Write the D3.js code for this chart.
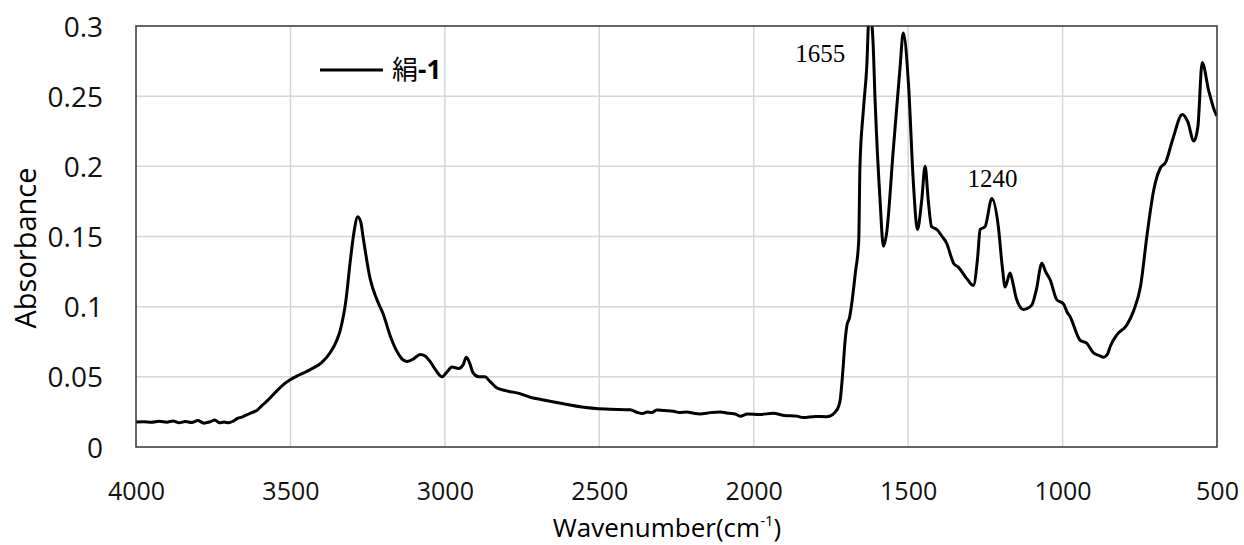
<!DOCTYPE html>
<html>
<head>
<meta charset="utf-8">
<script src="https://cdn.jsdelivr.net/npm/d3@7"></script>
<style>
  body { margin: 0; background: #fff; }
  svg { display: block; }
  .tick text { font-family: "Open Sans", sans-serif; fill: #111; }
</style>
</head>
<body>
<script>
// chart size, matching the window
var svgWidth = 1244;
var svgHeight = 545;
var margin = { top: 26, right: 27, bottom: 98, left: 136 };
var width = svgWidth - margin.left - margin.right;
var height = svgHeight - margin.top - margin.bottom;

// spectrum: wavenumber (cm-1) and absorbance
var wavenumbers = [4000, 3975, 3950, 3925, 3900, 3880, 3860, 3840, 3820, 3800, 3780, 3760, 3745, 3730, 3715, 3700,
  3685, 3670, 3655, 3640, 3625, 3609, 3590, 3570, 3544, 3520, 3501, 3470, 3437, 3400, 3372, 3350, 3339, 3320,
  3307, 3295, 3282, 3272, 3265, 3242, 3220, 3200, 3175, 3155, 3135, 3122, 3100, 3080, 3065, 3048, 3030, 3009,
  2995, 2977, 2955, 2940, 2931, 2920, 2909, 2890, 2870, 2855, 2831, 2800, 2757, 2724, 2692, 2620, 2562, 2480,
  2400, 2375, 2360, 2345, 2330, 2314, 2290, 2260, 2240, 2217, 2190, 2174, 2140, 2109, 2080, 2060, 2044, 2020,
  1980, 1937, 1900, 1860, 1840, 1800, 1764, 1745, 1736, 1725, 1720, 1712, 1704, 1698, 1690, 1684, 1671, 1660,
  1656, 1645, 1634, 1627, 1620, 1614, 1607, 1591, 1580, 1570, 1548, 1526, 1516, 1499, 1483, 1470, 1456, 1445,
  1435, 1424, 1407, 1390, 1375, 1360, 1353, 1337, 1310, 1289, 1275, 1267, 1251, 1229, 1208, 1195, 1186, 1170,
  1160, 1150, 1127, 1100, 1085, 1067, 1055, 1040, 1019, 997, 985, 976, 943, 922, 900, 879, 868, 855, 845, 824,
  792, 770, 748, 726, 705, 683, 666, 645, 612, 595, 575, 562, 548, 527, 503, 500];
var absorbance = [0.0178, 0.0180, 0.0176, 0.0183, 0.0177, 0.0186, 0.0172, 0.0182, 0.0175, 0.0188, 0.0170, 0.0180, 0.0192, 0.0172, 0.0178, 0.0172,
  0.0185, 0.0205, 0.0215, 0.0230, 0.0245, 0.0260, 0.0300, 0.0340, 0.0400, 0.0450, 0.0480, 0.0515, 0.0550, 0.0600, 0.0670, 0.0760, 0.0830, 0.1050,
  0.1310, 0.1520, 0.1640, 0.1600, 0.1500, 0.1200, 0.1050, 0.0950, 0.0780, 0.0680, 0.0620, 0.0610, 0.0630, 0.0660, 0.0650, 0.0610, 0.0550, 0.0500,
  0.0530, 0.0570, 0.0560, 0.0590, 0.0640, 0.0600, 0.0530, 0.0500, 0.0500, 0.0470, 0.0420, 0.0400, 0.0380, 0.0355, 0.0340, 0.0310, 0.0287, 0.0270,
  0.0265, 0.0245, 0.0238, 0.0250, 0.0245, 0.0264, 0.0260, 0.0255, 0.0245, 0.0250, 0.0238, 0.0235, 0.0245, 0.0250, 0.0240, 0.0235, 0.0220, 0.0235,
  0.0232, 0.0240, 0.0225, 0.0220, 0.0210, 0.0218, 0.0216, 0.0230, 0.0250, 0.0290, 0.0335, 0.0525, 0.0760, 0.0870, 0.0920, 0.1000, 0.1240, 0.1470,
  0.2000, 0.2400, 0.2710, 0.3050, 0.3050, 0.2900, 0.2470, 0.1760, 0.1430, 0.1520, 0.2120, 0.2710, 0.2950, 0.2590, 0.1880, 0.1550, 0.1760, 0.2000,
  0.1760, 0.1570, 0.1550, 0.1500, 0.1450, 0.1350, 0.1310, 0.1280, 0.1200, 0.1150, 0.1350, 0.1550, 0.1570, 0.1770, 0.1570, 0.1280, 0.1140, 0.1240,
  0.1160, 0.1060, 0.0980, 0.1010, 0.1120, 0.1310, 0.1250, 0.1190, 0.1050, 0.1020, 0.0960, 0.0930, 0.0760, 0.0740, 0.0670, 0.0650, 0.0640, 0.0660, 0.0720, 0.0800,
  0.0870, 0.0970, 0.1140, 0.1520, 0.1830, 0.1990, 0.2030, 0.2180, 0.2370, 0.2320, 0.2180, 0.2280, 0.2740, 0.2540, 0.2370, 0.2360];

var xTicks = [4000, 3500, 3000, 2500, 2000, 1500, 1000, 500];
var yTicks = [0, 0.05, 0.1, 0.15, 0.2, 0.25, 0.3];
var seriesName = "絹";
var seriesSuffix = "-1";
var peakLabels = ["1655", "1240"];
var peakAt = [1655, 1240];

var svg = d3.select("body").append("svg")
  .attr("width", svgWidth)
  .attr("height", svgHeight);

var chart = svg.append("g")
  .attr("transform", `translate(${margin.left}, ${margin.top})`);

var x = d3.scaleLinear().domain([4000, 500]).range([0, width]);
var y = d3.scaleLinear().domain([0, 0.3]).range([height, 0]);

// gridlines
chart.append("g")
  .selectAll("line.hgrid")
  .data(yTicks.slice(1, -1))
  .enter().append("line")
  .attr("x1", 0).attr("x2", width)
  .attr("y1", d => y(d)).attr("y2", d => y(d))
  .attr("stroke", "#d6d6d6").attr("stroke-width", 1.5);
chart.append("g")
  .selectAll("line.vgrid")
  .data(xTicks.slice(1, -1))
  .enter().append("line")
  .attr("x1", d => x(d)).attr("x2", d => x(d))
  .attr("y1", 0).attr("y2", height)
  .attr("stroke", "#d6d6d6").attr("stroke-width", 1.5);

// axes, labels only
var xAxis = d3.axisBottom(x).tickValues(xTicks).tickSize(0).tickPadding(35).tickFormat(d3.format("d"));
var yAxis = d3.axisLeft(y).tickValues(yTicks).tickSize(0).tickPadding(33).tickFormat(d => d === 0 ? "0" : String(d));

chart.append("g")
  .attr("transform", `translate(0, ${height})`)
  .call(xAxis)
  .call(g => g.select(".domain").remove())
  .selectAll("text").style("font-size", "25px");
chart.append("g")
  .call(yAxis)
  .call(g => g.select(".domain").remove())
  .selectAll("text").style("font-size", "28px").attr("dy", "0.36em");

// spectrum
svg.append("defs").append("clipPath").attr("id", "plotclip")
  .append("rect").attr("width", width).attr("height", height);

var line = d3.line()
  .x((d, i) => x(wavenumbers[i]))
  .y(d => y(d))
  .curve(d3.curveMonotoneX);

chart.append("path")
  .datum(absorbance)
  .attr("clip-path", "url(#plotclip)")
  .attr("fill", "none")
  .attr("stroke", "#000")
  .attr("stroke-width", 3)
  .attr("stroke-linejoin", "round")
  .attr("d", line);

// frame
chart.append("rect")
  .attr("width", width).attr("height", height)
  .attr("fill", "none").attr("stroke", "#333").attr("stroke-width", 1.5);

// peak notes
chart.selectAll("text.peak")
  .data(peakLabels)
  .enter().append("text")
  .attr("x", (d, i) => i === 0 ? x(peakAt[i]) - 40 : x(peakAt[i]) + 4)
  .attr("y", (d, i) => i === 0 ? 36 : 161)
  .attr("text-anchor", "middle")
  .style("font-family", "'Liberation Serif', serif")
  .style("font-size", "25px")
  .text(d => d);

// legend
var legend = chart.append("g").attr("transform", "translate(184, 44)");
legend.append("line")
  .attr("x1", 0).attr("x2", 63)
  .attr("stroke", "#000").attr("stroke-width", 3);
var lt = legend.append("text")
  .attr("x", 72).attr("dy", "0.36em")
  .style("font-size", "26px");
lt.append("tspan").style("font-family", "'Noto Sans CJK JP', sans-serif").text(seriesName);
lt.append("tspan").style("font-family", "'Open Sans', sans-serif").style("font-weight", "bold").text(seriesSuffix);

// axis titles
var xt = svg.append("text")
  .attr("x", 667)
  .attr("y", 537)
  .attr("text-anchor", "middle")
  .style("font-family", "'Open Sans', sans-serif")
  .style("font-size", "26px");
xt.append("tspan").text("Wavenumber(cm");
xt.append("tspan").attr("dy", -11).style("font-size", "15px").text("-1");
xt.append("tspan").attr("dy", 11).text(")");

svg.append("text")
  .attr("transform", "translate(36, 248) rotate(-90)")
  .attr("text-anchor", "middle")
  .style("font-family", "'Open Sans', sans-serif")
  .style("font-size", "29px")
  .text("Absorbance");
</script>
</body>
</html>
